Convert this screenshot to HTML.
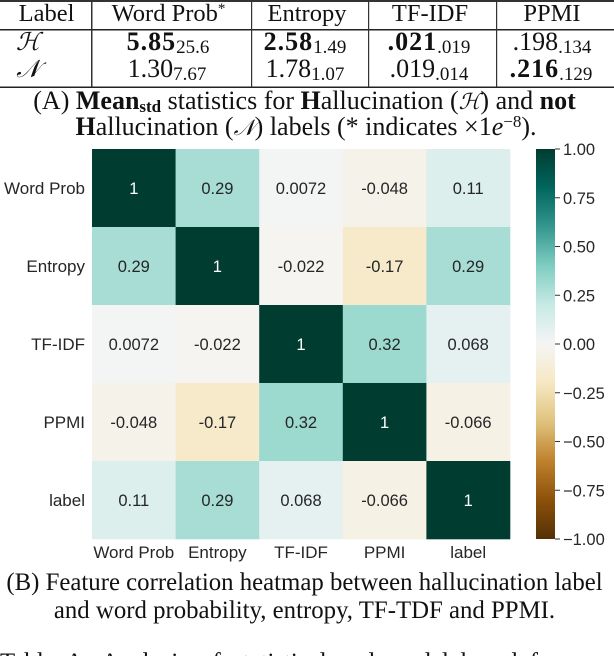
<!DOCTYPE html>
<html>
<head>
<meta charset="utf-8">
<style>
html,body{margin:0;padding:0;background:#fff;width:614px;height:656px;overflow:hidden}
svg{display:block}
.s{font-family:"Liberation Serif","DejaVu Serif",serif;fill:#111}
.a{font-family:"Liberation Sans",sans-serif;fill:#262626}
</style>
</head>
<body>
<svg id="fig" xmlns="http://www.w3.org/2000/svg" width="614" height="656" viewBox="0 0 614 656">
<defs>
<linearGradient id="cbar" x1="0" y1="0" x2="0" y2="1">
<stop offset="0" stop-color="#003c30"/><stop offset=".1" stop-color="#01665e"/><stop offset=".2" stop-color="#35978f"/><stop offset=".3" stop-color="#80cdc1"/><stop offset=".4" stop-color="#c7eae5"/><stop offset=".5" stop-color="#f5f5f5"/><stop offset=".6" stop-color="#f6e8c3"/><stop offset=".7" stop-color="#dfc27d"/><stop offset=".8" stop-color="#bf812d"/><stop offset=".9" stop-color="#8c510a"/><stop offset="1" stop-color="#543005"/>
</linearGradient>
</defs>
<g>
<rect x="0" y="0" width="614" height="2" fill="#333"/>
<rect x="0" y="29" width="614" height="1.5" fill="#222"/>
<rect x="0" y="86.5" width="614" height="1.5" fill="#222"/>
<rect x="91" y="1" width="1.5" height="86" fill="#333"/>
<rect x="251" y="1" width="1.2" height="86" fill="#333"/>
<rect x="368" y="1" width="1.2" height="86" fill="#333"/>
<rect x="496" y="1" width="1.2" height="86" fill="#333"/>
<g class="s" font-size="24.5" text-anchor="middle">
<text x="46.5" y="21">Label</text>
<text x="168.5" y="21">Word Prob<tspan font-size="15" dy="-8">*</tspan></text>
<text x="307" y="21">Entropy</text>
<text x="430" y="21">TF-IDF</text>
<text x="552" y="21">PPMI</text>
<text x="28" y="50" font-family="DejaVu Serif" font-style="italic">ℋ</text>
<text x="28" y="77" font-family="DejaVu Serif" font-style="italic">𝒩</text>
<text x="168" y="50" font-size="26"><tspan font-weight="bold" letter-spacing="1">5.85</tspan><tspan font-size="19" dy="3">25.6</tspan></text>
<text x="305" y="50" font-size="26"><tspan font-weight="bold" letter-spacing="1">2.58</tspan><tspan font-size="19" dy="3">1.49</tspan></text>
<text x="429" y="50" font-size="26"><tspan font-weight="bold" letter-spacing="1">.021</tspan><tspan font-size="19" dy="3">.019</tspan></text>
<text x="552" y="50" font-size="26">.198<tspan font-size="19" dy="3">.134</tspan></text>
<text x="167" y="77" font-size="26">1.30<tspan font-size="19" dy="3">7.67</tspan></text>
<text x="305" y="77" font-size="26">1.78<tspan font-size="19" dy="3">1.07</tspan></text>
<text x="429" y="77" font-size="26">.019<tspan font-size="19" dy="3">.014</tspan></text>
<text x="551" y="77" font-size="26"><tspan font-weight="bold" letter-spacing="1">.216</tspan><tspan font-size="19" dy="3">.129</tspan></text>
</g>
</g>
<g class="s" font-size="26" text-anchor="middle">
<text x="304.5" y="109">(A) <tspan font-weight="bold">Mean</tspan><tspan font-weight="bold" font-size="17" dy="3">std</tspan><tspan dy="-3"> statistics for </tspan><tspan font-weight="bold">H</tspan>allucination (<tspan font-family="DejaVu Serif" font-style="italic" font-size="22">ℋ</tspan>) and <tspan font-weight="bold">not</tspan></text>
<text x="306" y="135"><tspan font-weight="bold">H</tspan>allucination (<tspan font-family="DejaVu Serif" font-style="italic" font-size="22">𝒩</tspan>) labels (* indicates ×1<tspan font-style="italic">e</tspan><tspan font-size="17" dy="-8">−8</tspan><tspan dy="8">).</tspan></text>
</g>
<g class="s" font-size="24.8" text-anchor="middle">
<text x="304.5" y="590">(B) Feature correlation heatmap between hallucination label</text>
<text x="304.5" y="618">and word probability, entropy, TF-TDF and PPMI.</text>
<text x="0" y="670" text-anchor="start" word-spacing="6">Table A: Analysis of statistical and model based f</text>
</g>
<g id="heatmap"></g>
<g id="colorbar"></g>
</svg>
<script>
const categories = ["Word Prob", "Entropy", "TF-IDF", "PPMI", "label"];
const row0 = [1, 0.29, 0.0072, -0.048, 0.11];
const row1 = [0.29, 1, -0.022, -0.17, 0.29];
const row2 = [0.0072, -0.022, 1, 0.32, 0.068];
const row3 = [-0.048, -0.17, 0.32, 1, -0.066];
const row4 = [0.11, 0.29, 0.068, -0.066, 1];
const matrix = [row0, row1, row2, row3, row4];
const colorbarTicks = [1, 0.75, 0.5, 0.25, 0, -0.25, -0.5, -0.75, -1];

const NS = "http://www.w3.org/2000/svg";
const plot = {l: 92, t: 149, w: 418, h: 390};
const bar = {l: 536, w: 19, t: 149, h: 390};
const cw = plot.w / categories.length;
const ch = plot.h / categories.length;
const xPos = i => plot.l + i * cw;
const yPos = i => plot.t + i * ch;
const barY = v => bar.t + (1 - v) / 2 * bar.h;
const brbg = ["#543005","#8c510a","#bf812d","#dfc27d","#f6e8c3","#f5f5f5","#c7eae5","#80cdc1","#35978f","#01665e","#003c30"];
function rgb(h){return [1,3,5].map(i=>parseInt(h.substr(i,2),16));}
function colorOf(v){
  const t = Math.max(0, Math.min(1, (v + 1) / 2)) * 10;
  const i = Math.min(9, Math.floor(t));
  const a = rgb(brbg[i]), b = rgb(brbg[i + 1]), f = t - i;
  return "rgb(" + a.map((c, k) => Math.round(c + (b[k] - c) * f)).join(",") + ")";
}
function make(tag, attrs, parent, txt){
  const el = document.createElementNS(NS, tag);
  for (const k in attrs) el.setAttribute(k, attrs[k]);
  if (txt !== undefined) el.textContent = txt;
  parent.appendChild(el);
  return el;
}
const hm = document.getElementById("heatmap");
matrix.forEach((row, r) => {
  row.forEach((v, c) => {
    const cell = make("rect", {x: xPos(c), y: yPos(r), width: cw + 0.3, height: ch + 0.3, fill: colorOf(v)}, hm);
    
    
    const label = make("text", {x: xPos(c) + cw / 2, y: yPos(r) + ch / 2 + 6, "text-anchor": "middle", "font-size": 16.5, "class": "a"}, hm, String(v));
    label.style.fill = v > 0.6 ? "#ffffff" : "#262626";
    
    
  });
});
categories.forEach((name, i) => {
  const yl = make("text", {x: 85, y: yPos(i) + ch / 2 + 6, "text-anchor": "end", "font-size": 17, "class": "a"}, hm, name);
  
  
  const xl = make("text", {x: xPos(i) + cw / 2, y: 558, "text-anchor": "middle", "font-size": 17, "class": "a"}, hm, name);
  
  
});
const cb = document.getElementById("colorbar");
const ramp = make("rect", {x: bar.l, y: bar.t, width: bar.w, height: bar.h, fill: "url(#cbar)"}, cb);


colorbarTicks.forEach(v => {
  const tick = make("rect", {x: bar.l + bar.w, y: barY(v) - 0.5, width: 5, height: 1, fill: "#333"}, cb);
  
  
  const lab = make("text", {x: 563, y: barY(v) + 6, "font-size": 16.5, "class": "a"}, cb, v.toFixed(2).replace("-", "\u2212"));
  
  
});
</script>
</body>
</html>
